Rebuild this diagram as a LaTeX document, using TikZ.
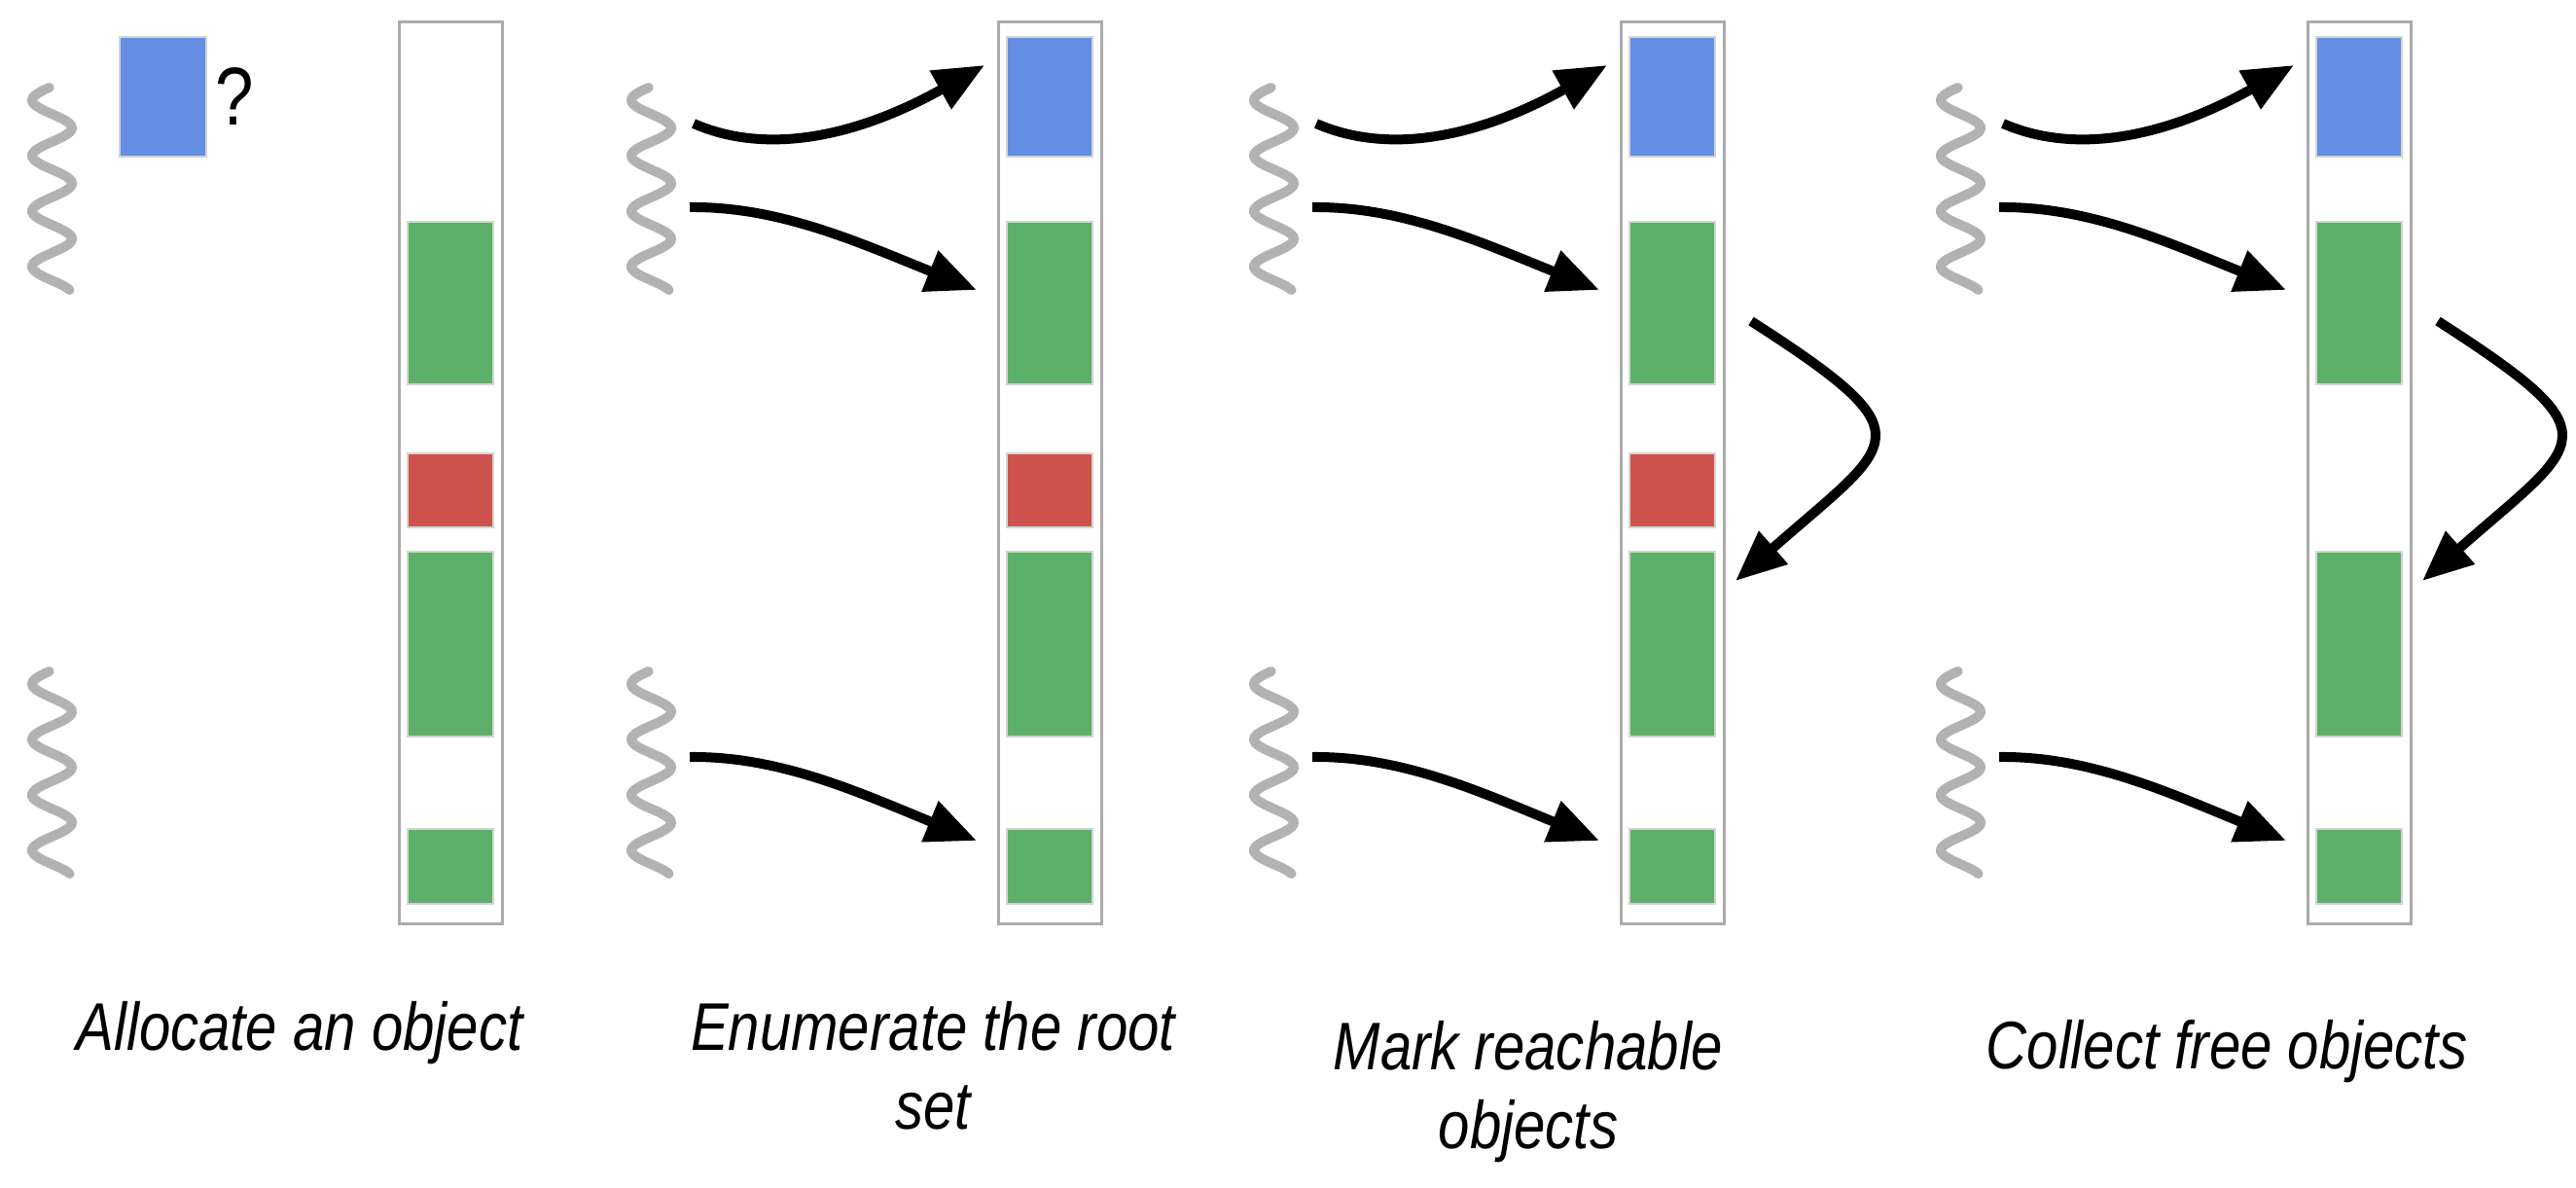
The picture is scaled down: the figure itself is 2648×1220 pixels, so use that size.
\documentclass[tikz,border=0pt]{standalone}
\usepackage{fontspec}
\usepackage{tikz}
\usetikzlibrary{arrows.meta}
\usetikzlibrary{positioning}
\newfontfamily\capfont{Liberation Sans}[FakeStretch=0.84]
\definecolor{objblue}{RGB}{99,142,227}
\definecolor{objgreen}{RGB}{93,176,106}
\definecolor{objred}{RGB}{206,83,76}
\tikzset{basic box/.style={draw,rectangle,inner sep=0pt,anchor=north west}}
\tikzset{heap/.style={basic box,draw=black!33,line width=0.3mm,minimum width=10.6mm,minimum height=92.7mm}}
\tikzset{object/.style={basic box,draw=black!17,line width=0.2mm,minimum width=8.8mm}}
\tikzset{pointer/.style={draw,
                         line width=1mm,
                         -{Triangle[length=5.2mm,width=4.3mm]}}}
\tikzset{root/.style={draw=black!30,line width=1mm,line cap=round}}
\newcommand{\CAP}{\capfont\itshape\fontsize{19.7}{23}\selectfont}

\begin{document}
\begin{tikzpicture}
      [
      x=0.1mm,y=-0.1mm,
      caption/.style={font=\CAP,align=center,inner sep=0pt,anchor=base},
      ]
      \useasboundingbox (0,0) rectangle (2648,1220);

      % heaps
      \foreach \p/\c in {1/409,2/1025,3/1665,4/2371}
      {
      \node [heap] (H\p) at (\c,21) {};
      \node [object,fill=objgreen,minimum height=16.7mm] (G\p-1) at (\c+9,227) {};
      \node [object,fill=objgreen,minimum height=19mm] (G\p-2) at (\c+9,566) {};
      \node [object,fill=objgreen,minimum height=7.7mm] (G\p-3) at (\c+9,851) {};
      }
      \foreach \p/\c in {2/1025,3/1665,4/2371}
      {
      \node [object,fill=objblue,minimum height=12.3mm] (B\p) at (\c+9,37) {};
      }
      \foreach \p/\c in {1/409,2/1025,3/1665}
      {
      \node [object,fill=objred,minimum height=7.6mm] (R\p) at (\c+9,465) {};
      }

      % new object
      \node [object,fill=objblue,minimum width=8.9mm,minimum height=12.3mm] (new) at (122,37) {};
      \node [inner sep=0pt,font=\capfont\fontsize{24}{26}\selectfont,right=0.8mm of new] (ask) {?};

      % roots
      \foreach \w in {53.5,669.5,1309.5,2015.5}
      {
      \foreach \yw in {90,690}
      {
      \draw [root] plot [variable=\t,domain=0:208,samples=100,smooth]
      ({\w-20.5*sin((\t+1.25)/57*360)},{\yw+\t});
      }
      }

      % root pointers
      \foreach \p/\c in {2/1025,3/1665,4/2371}
      {
      \coordinate (S\p-1) at (\c-312,127);
      \coordinate (T\p-1) at (\c-13,67);
      \coordinate (S\p-2) at (\c-316,213);
      \coordinate (T\p-2) at (\c-21,298);
      \coordinate (S\p-3) at (\c-316,778);
      \coordinate (T\p-3) at (\c-21,864);
      \draw [pointer] (S\p-1) .. controls (\c-225,165) and (\c-125,130) .. (T\p-1);
      \draw [pointer] (S\p-2) .. controls (\c-225,212) and (\c-145,248) .. (T\p-2);
      \draw [pointer] (S\p-3) .. controls (\c-225,777) and (\c-145,813) .. (T\p-3);
      }

      % object pointers
      \foreach \p/\c in {3/1665,4/2371}
      {
      \coordinate (S\p-4) at (\c+135,330);
      \coordinate (T\p-4) at (\c+119,597);
      \draw [pointer] (S\p-4) .. controls (\c+320,449) and (\c+284,452) .. (T\p-4);
      }

      % captions (two-line ones sit on their last baseline)
      \node [caption] (cap1) at (308,1079) {Allocate an object};
      \node [caption] (cap2) at (959,1160) {Enumerate the root\\set};
      \node [caption] (cap3) at (1571,1180) {Mark reachable\\objects};
      \node [caption] (cap4) at (2289,1098) {Collect free objects};

\end{tikzpicture}
\end{document}
